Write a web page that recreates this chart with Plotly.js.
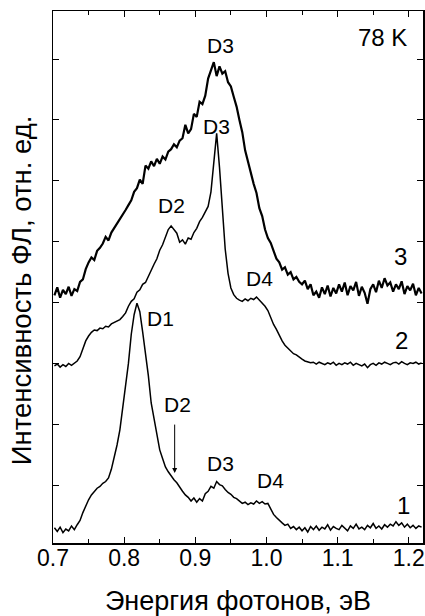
<!DOCTYPE html>
<html>
<head>
<meta charset="utf-8">
<script src="https://cdn.plot.ly/plotly-3.0.1.min.js"></script>
<style>html,body{margin:0;padding:0;background:#fff;}#chart{width:425px;height:616px;}</style>
</head>
<body>
<div id="chart"></div>
<script>
// Photon energy, eV
const energy = [
0.702,0.706,0.710,0.714,0.718,0.722,0.726,0.730,0.734,0.738,
0.742,0.746,0.750,0.754,0.758,0.762,0.766,0.770,0.774,0.778,
0.782,0.786,0.790,0.794,0.798,0.802,0.806,0.810,0.814,0.818,
0.822,0.826,0.830,0.834,0.838,0.842,0.846,0.850,0.854,0.858,
0.862,0.866,0.870,0.874,0.878,0.882,0.886,0.890,0.894,0.898,
0.902,0.906,0.910,0.914,0.918,0.922,0.926,0.930,0.934,0.938,
0.942,0.946,0.950,0.954,0.958,0.962,0.966,0.970,0.974,0.978,
0.982,0.986,0.990,0.994,0.998,1.002,1.006,1.010,1.014,1.018,
1.022,1.026,1.030,1.034,1.038,1.042,1.046,1.050,1.054,1.058,
1.062,1.066,1.070,1.074,1.078,1.082,1.086,1.090,1.094,1.098,
1.102,1.106,1.110,1.114,1.118,1.122,1.126,1.130,1.134,1.138,
1.142,1.146,1.150,1.154,1.158,1.162,1.166,1.170,1.174,1.178,
1.182,1.186,1.190,1.194,1.198,1.202,1.206,1.210,1.214,1.218
];

// Spectrum 1 (bottom)
const spectrum1 = [
0.30,0.24,0.31,0.22,0.28,0.25,0.33,0.27,0.35,0.42,
0.55,0.66,0.76,0.84,0.90,0.95,0.98,1.03,1.06,1.12,
1.26,1.45,1.66,1.91,2.25,2.60,3.00,3.48,3.80,3.99,
3.85,3.52,3.18,2.80,2.35,2.08,1.82,1.58,1.44,1.30,
1.22,1.15,1.09,1.04,0.96,0.90,0.84,0.80,0.74,0.79,
0.72,0.78,0.74,0.86,0.90,0.98,0.95,1.06,1.01,0.99,
0.93,0.88,0.85,0.80,0.78,0.74,0.70,0.72,0.68,0.71,
0.69,0.74,0.70,0.73,0.69,0.70,0.60,0.52,0.47,0.42,
0.38,0.34,0.36,0.29,0.32,0.27,0.31,0.25,0.30,0.23,
0.32,0.27,0.33,0.26,0.31,0.28,0.35,0.26,0.32,0.29,
0.27,0.34,0.30,0.25,0.33,0.29,0.36,0.28,0.31,0.27,
0.34,0.30,0.37,0.29,0.33,0.28,0.35,0.31,0.36,0.33,
0.40,0.34,0.38,0.31,0.36,0.30,0.34,0.29,0.33,0.31
];

// Spectrum 2 (middle)
const spectrum2 = [
2.96,2.99,2.94,2.98,2.95,3.00,2.97,3.01,3.04,3.11,
3.24,3.37,3.45,3.51,3.55,3.54,3.58,3.57,3.61,3.60,
3.65,3.67,3.70,3.72,3.77,3.83,3.94,4.02,4.06,4.17,
4.21,4.30,4.33,4.44,4.52,4.63,4.72,4.86,4.95,5.08,
5.20,5.26,5.19,5.14,4.99,5.03,4.96,5.06,5.04,5.15,
5.22,5.33,5.40,5.49,5.58,5.82,6.25,6.78,6.22,5.48,
4.88,4.48,4.24,4.13,4.07,4.04,4.02,4.06,4.03,4.07,
4.05,4.09,4.04,3.99,3.94,3.87,3.74,3.64,3.56,3.45,
3.37,3.30,3.25,3.20,3.16,3.14,3.10,3.07,3.04,3.03,
3.01,3.02,2.99,3.02,3.00,2.98,3.01,2.99,3.02,2.97,
3.00,2.98,3.01,2.99,3.02,2.97,3.00,2.98,2.96,2.99,
2.93,2.98,3.00,2.97,3.01,2.99,3.02,3.00,2.98,3.01,
3.02,2.99,3.03,3.00,2.98,3.01,3.00,3.02,2.99,3.01
];

// Spectrum 3 (top)
const spectrum3 = [
4.12,4.25,4.08,4.21,4.14,4.26,4.11,4.22,4.19,4.34,
4.38,4.55,4.66,4.74,4.70,4.85,4.90,4.97,5.08,5.02,
5.15,5.22,5.30,5.38,5.45,5.52,5.60,5.68,5.82,5.88,
6.02,5.95,6.25,6.20,6.32,6.24,6.36,6.28,6.40,6.35,
6.48,6.52,6.60,6.55,6.66,6.70,6.92,6.78,6.85,7.10,
7.05,7.30,7.26,7.40,7.68,7.82,7.95,7.72,7.88,7.76,
7.80,7.62,7.55,7.38,7.22,7.00,6.80,6.50,6.30,6.15,
5.95,5.80,5.55,5.42,5.20,5.06,4.98,4.85,4.72,4.66,
4.54,4.58,4.46,4.50,4.38,4.42,4.34,4.30,4.36,4.22,
4.30,4.12,4.18,4.08,4.25,4.14,4.28,4.10,4.24,4.15,
4.30,4.18,4.33,4.12,4.27,4.20,4.34,4.11,4.26,4.16,
3.98,4.22,4.30,4.17,4.36,4.24,4.40,4.28,4.33,4.18,
4.30,4.22,4.35,4.14,4.27,4.20,4.31,4.12,4.24,4.15
];

// Tick labels
const xTickVals = [0.7, 0.8, 0.9, 1.0, 1.1, 1.2];
const xTickText = ["0.7", "0.8", "0.9", "1.0", "1.1", "1.2"];
const yTickVals = [1, 2, 3, 4, 5, 6, 7, 8];

// Axis titles
const xTitle = 'Энергия фотонов, эВ';
const yTitle = 'Интенсивность ФЛ, отн. ед.';

// Peak labels
const peakText = ["D3", "D3", "D2", "D4", "D1", "D2", "D3", "D4"];
const peakX    = [0.9355, 0.930, 0.8667, 0.990, 0.851, 0.875, 0.9355, 1.0057];
const peakY    = [8.23, 6.90, 5.59, 4.40, 3.74, 2.32, 1.36, 1.07];

// Curve numbers
const curveText = ["3", "2", "1"];
const curveX = [1.188, 1.190, 1.1925];
const curveY = [4.76, 3.37, 0.67];

const FONT = '"Liberation Sans", Arial, sans-serif';

const traces = [spectrum1, spectrum2, spectrum3].map((s, i) => ({
  x: energy, y: s, type: 'scatter', mode: 'lines',
  line: {color: '#000', width: i === 2 ? 2.2 : 1.5},
  showlegend: false, hoverinfo: 'skip'
}));

const annotations = [];
peakText.forEach((t, i) => annotations.push({
  x: peakX[i], y: peakY[i], xref: 'x', yref: 'y', text: t, showarrow: false,
  font: {family: FONT, size: 21, color: '#000'}
}));
curveText.forEach((t, i) => annotations.push({
  x: curveX[i], y: curveY[i], xref: 'x', yref: 'y', text: t, showarrow: false,
  font: {family: FONT, size: 24, color: '#000'}
}));
annotations.push({
  x: 1.163, y: 8.36, xref: 'x', yref: 'y', text: '78 K', showarrow: false,
  font: {family: FONT, size: 24, color: '#000'}
});
// arrow marking D2 on curve 1
annotations.push({
  x: 0.871, y: 1.20, ax: 0.871, ay: 2.02, xref: 'x', yref: 'y', axref: 'x', ayref: 'y',
  text: '', showarrow: true, arrowhead: 2, arrowsize: 1, arrowwidth: 1, arrowcolor: '#000'
});
// y-axis title placed as rotated text
annotations.push({
  x: -0.0865, y: 0.475, xref: 'paper', yref: 'paper', text: yTitle, showarrow: false,
  textangle: -90, xanchor: 'center', yanchor: 'middle',
  font: {family: FONT, size: 27.5, color: '#000'}
});

const layout = {
  width: 425, height: 616,
  margin: {l: 53, r: 2, t: 11, b: 73, pad: 0},
  paper_bgcolor: '#fff', plot_bgcolor: '#fff',
  font: {family: FONT, color: '#000'},
  xaxis: {
    range: [0.7, 1.22], tickvals: xTickVals, ticktext: xTickText,
    ticks: 'inside', ticklen: 6, tickwidth: 1, tickcolor: '#000',
    ticklabelstandoff: -6,
    minor: {dtick: 0.05, tick0: 0.7, ticks: 'inside', ticklen: 4, tickcolor: '#000', showgrid: false},
    showline: true, linecolor: '#000', linewidth: 1.5, mirror: 'ticks',
    showgrid: false, zeroline: false,
    tickfont: {family: FONT, size: 23, color: '#000'},
    title: {text: xTitle, font: {family: FONT, size: 27, color: '#000'}, standoff: 28}
  },
  yaxis: {
    range: [0.05, 8.79], tickvals: yTickVals, showticklabels: false,
    ticks: 'inside', ticklen: 6, tickwidth: 1, tickcolor: '#000',
    showline: true, linecolor: '#000', linewidth: 1.5, mirror: 'ticks',
    showgrid: false, zeroline: false
  },
  annotations: annotations
};

Plotly.newPlot('chart', traces, layout, {staticPlot: true, displayModeBar: false});
</script>
</body>
</html>
